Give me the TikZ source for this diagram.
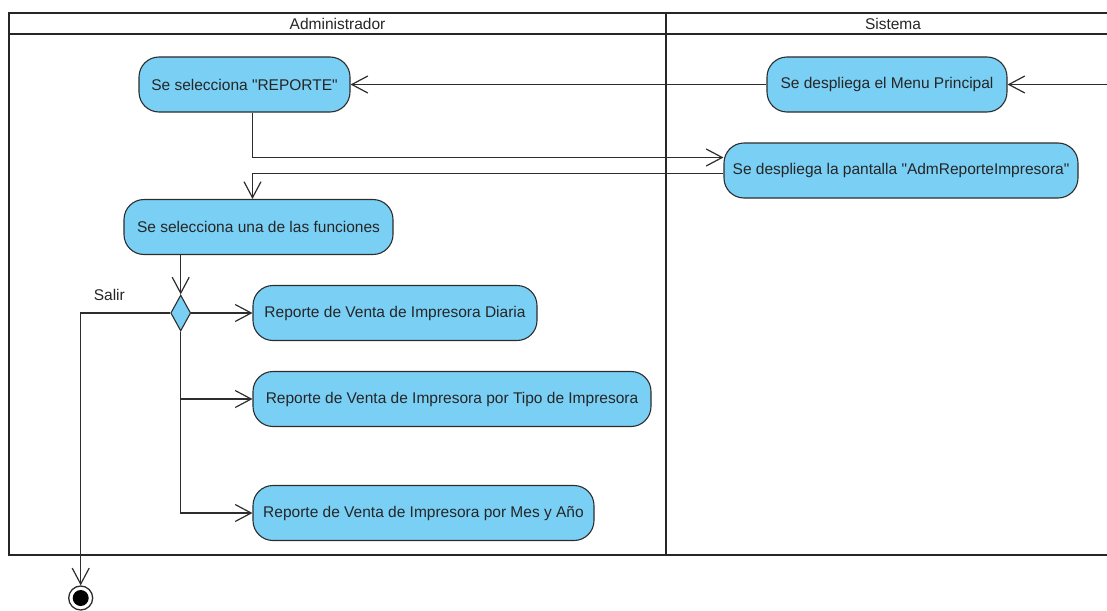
\documentclass[tikz,border=0pt]{standalone}
\usepackage{fontspec}
\newfontfamily\diagfont{Liberation Sans}
\usetikzlibrary{positioning,arrows.meta,shapes.geometric}
\definecolor{actblue}{RGB}{122,207,245}
\definecolor{edgegray}{RGB}{45,45,45}

\begin{document}
\begin{tikzpicture}[x=1pt,y=-1pt,
  every node/.style={font=\diagfont\fontsize{15.5}{18}\selectfont,text=black!85},
  act/.style={draw=edgegray,line width=1.1,fill=actblue,rounded corners=20,minimum height=55,inner sep=0},
  flow/.style={draw=edgegray,line width=1.2,-{Straight Barb[length=16pt,width=17pt,line width=1.2pt]}},
  lane/.style={draw=black!85,line width=2.4}]
\useasboundingbox (0,0) rectangle (1107,610);

% swimlanes
\draw[lane] (1125,13) -- (9,13) -- (9,555) -- (1125,555);
\draw[lane] (9,34) -- (1125,34);
\draw[lane] (666,13) -- (666,555);
\node (adm) at (337.5,23.5) {Administrador};
\node (sis) at (893,23.5) {Sistema};

% actions
\node[act,minimum width=211] (rep) at (244.5,84.5) {Se selecciona "REPORTE"};
\node[act,minimum width=240] (menu) at (887,84.5) {Se despliega el Menu Principal};
\node[act,minimum width=354] (pant) at (901,170.5) {Se despliega la pantalla "AdmReporteImpresora"};
\node[act,minimum width=269] (fun) at (258.5,227) {Se selecciona una de las funciones};
\node[diamond,draw=edgegray,line width=1.1,fill=actblue,minimum width=20,minimum height=36,inner sep=0] (dec) at (180.7,313) {};
\node[act,minimum width=284] (diaria) at (395,313) {Reporte de Venta de Impresora Diaria};
\node[act,minimum width=398] (tipo) at (452,399) {Reporte de Venta de Impresora por Tipo de Impresora};
\node[act,minimum width=341] (mes) at (423.5,513) {Reporte de Venta de Impresora por Mes y Año};
\node[circle,draw=edgegray,line width=1.3,minimum size=24,inner sep=0,
  path picture={\fill[black] (path picture bounding box.center) circle (8);}] (fin) at (80.7,598) {};

% flows
\coordinate (inicio) at (1107,84.5);
\draw[flow] (inicio) -- (menu);
\draw[flow] (menu) -- (rep);
\draw[flow] ([xshift=8]rep.south) |- ([yshift=13]pant.west);
\draw[flow] ([yshift=-3]pant.west) -| ([xshift=-6]fun.north);
\draw[flow] (fun.south -| dec) -- (dec.north);
\draw[flow] (dec.east) -- (diaria.west);
\draw[flow] (dec.south) |- (tipo.west);
\draw[flow] (dec.south) |- (mes.west);
\draw[flow] (dec.west) -| node[above=8pt,pos=0.34] {Salir} (fin.north);
\end{tikzpicture}
\end{document}
